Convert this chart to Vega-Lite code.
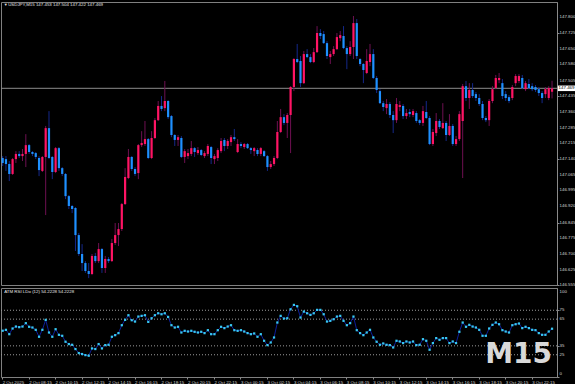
{
"$schema":"https://vega.github.io/schema/vega-lite/v6.json",
"background":"#000000",
"padding":{"left":0,"top":1,"right":0,"bottom":0},
"spacing":3,
"bounds":"flush",
"config":{"view":{"stroke":"#808080","strokeWidth":1},"font":"Liberation Sans","axis":{"labelFont":"Liberation Sans","labelFontSize":4.4,"labelColor":"#d4d4d4","tickColor":"#8a8a8a","domainColor":"#8a8a8a","tickSize":2,"grid":false,"title":null,"labelPadding":1,"labelOverlap":false,"labelSeparation":0,"labelFlush":false,"labelBound":false}},
"datasets":{"bars":[
{"t":"2 Oct 06:15","o":147.145,"h":147.154,"l":147.108,"c":147.122,"r":52.0},
{"t":"2 Oct 06:30","o":147.140,"h":147.154,"l":147.085,"c":147.117,"r":53.0},
{"t":"2 Oct 06:45","o":147.117,"h":147.131,"l":147.038,"c":147.071,"r":48.1},
{"t":"2 Oct 07:00","o":147.071,"h":147.145,"l":147.066,"c":147.140,"r":54.5},
{"t":"2 Oct 07:15","o":147.140,"h":147.177,"l":147.122,"c":147.164,"r":56.7},
{"t":"2 Oct 07:30","o":147.164,"h":147.177,"l":147.145,"c":147.154,"r":56.0},
{"t":"2 Oct 07:45","o":147.154,"h":147.187,"l":147.131,"c":147.164,"r":56.7},
{"t":"2 Oct 08:00","o":147.164,"h":147.256,"l":147.103,"c":147.205,"r":60.5},
{"t":"2 Oct 08:15","o":147.205,"h":147.210,"l":147.164,"c":147.173,"r":56.4},
{"t":"2 Oct 08:30","o":147.173,"h":147.177,"l":147.154,"c":147.164,"r":55.6},
{"t":"2 Oct 08:45","o":147.168,"h":147.173,"l":147.140,"c":147.150,"r":53.0},
{"t":"2 Oct 09:00","o":147.145,"h":147.154,"l":147.061,"c":147.089,"r":45.2},
{"t":"2 Oct 09:15","o":147.085,"h":147.154,"l":147.080,"c":147.150,"r":53.0},
{"t":"2 Oct 09:30","o":147.150,"h":147.294,"l":146.880,"c":147.284,"r":64.2},
{"t":"2 Oct 09:45","o":147.284,"h":147.363,"l":147.140,"c":147.145,"r":50.0},
{"t":"2 Oct 10:00","o":147.150,"h":147.154,"l":147.047,"c":147.080,"r":45.2},
{"t":"2 Oct 10:15","o":147.080,"h":147.196,"l":147.075,"c":147.191,"r":53.7},
{"t":"2 Oct 10:30","o":147.191,"h":147.196,"l":147.085,"c":147.098,"r":47.4},
{"t":"2 Oct 10:45","o":147.098,"h":147.103,"l":147.061,"c":147.071,"r":46.3},
{"t":"2 Oct 11:00","o":147.071,"h":147.075,"l":146.954,"c":146.968,"r":39.6},
{"t":"2 Oct 11:15","o":146.968,"h":146.973,"l":146.908,"c":146.922,"r":37.0},
{"t":"2 Oct 11:30","o":146.922,"h":146.927,"l":146.889,"c":146.908,"r":36.2},
{"t":"2 Oct 11:45","o":146.913,"h":146.917,"l":146.713,"c":146.787,"r":31.4},
{"t":"2 Oct 12:00","o":146.787,"h":146.797,"l":146.690,"c":146.699,"r":26.9},
{"t":"2 Oct 12:15","o":146.699,"h":146.745,"l":146.620,"c":146.657,"r":25.8},
{"t":"2 Oct 12:30","o":146.657,"h":146.666,"l":146.611,"c":146.620,"r":24.6},
{"t":"2 Oct 12:45","o":146.620,"h":146.657,"l":146.587,"c":146.606,"r":23.9},
{"t":"2 Oct 13:00","o":146.606,"h":146.699,"l":146.601,"c":146.690,"r":32.1},
{"t":"2 Oct 13:15","o":146.690,"h":146.704,"l":146.657,"c":146.666,"r":31.4},
{"t":"2 Oct 13:30","o":146.666,"h":146.750,"l":146.657,"c":146.722,"r":37.0},
{"t":"2 Oct 13:45","o":146.722,"h":146.727,"l":146.611,"c":146.634,"r":32.1},
{"t":"2 Oct 14:00","o":146.634,"h":146.690,"l":146.611,"c":146.676,"r":35.8},
{"t":"2 Oct 14:15","o":146.676,"h":146.685,"l":146.657,"c":146.666,"r":36.2},
{"t":"2 Oct 14:30","o":146.666,"h":146.769,"l":146.662,"c":146.750,"r":45.2},
{"t":"2 Oct 14:45","o":146.750,"h":146.843,"l":146.741,"c":146.787,"r":47.0},
{"t":"2 Oct 15:00","o":146.787,"h":146.843,"l":146.736,"c":146.815,"r":49.3},
{"t":"2 Oct 15:15","o":146.815,"h":146.936,"l":146.806,"c":146.931,"r":58.2},
{"t":"2 Oct 15:30","o":146.931,"h":147.098,"l":146.927,"c":147.057,"r":64.2},
{"t":"2 Oct 15:45","o":147.052,"h":147.187,"l":147.047,"c":147.150,"r":69.4},
{"t":"2 Oct 16:00","o":147.150,"h":147.154,"l":147.085,"c":147.094,"r":63.8},
{"t":"2 Oct 16:15","o":147.094,"h":147.103,"l":147.061,"c":147.071,"r":62.3},
{"t":"2 Oct 16:30","o":147.075,"h":147.210,"l":147.047,"c":147.205,"r":67.9},
{"t":"2 Oct 16:45","o":147.205,"h":147.270,"l":147.196,"c":147.215,"r":68.7},
{"t":"2 Oct 17:00","o":147.210,"h":147.317,"l":147.201,"c":147.233,"r":69.4},
{"t":"2 Oct 17:15","o":147.233,"h":147.238,"l":147.140,"c":147.145,"r":61.9},
{"t":"2 Oct 17:30","o":147.145,"h":147.270,"l":147.140,"c":147.238,"r":66.0},
{"t":"2 Oct 17:45","o":147.238,"h":147.331,"l":147.233,"c":147.321,"r":69.4},
{"t":"2 Oct 18:00","o":147.321,"h":147.410,"l":147.317,"c":147.387,"r":71.6},
{"t":"2 Oct 18:15","o":147.387,"h":147.433,"l":147.363,"c":147.373,"r":70.5},
{"t":"2 Oct 18:30","o":147.377,"h":147.503,"l":147.363,"c":147.410,"r":71.6},
{"t":"2 Oct 18:45","o":147.410,"h":147.414,"l":147.326,"c":147.335,"r":67.5},
{"t":"2 Oct 19:00","o":147.340,"h":147.345,"l":147.242,"c":147.252,"r":58.2},
{"t":"2 Oct 19:15","o":147.252,"h":147.256,"l":147.201,"c":147.229,"r":55.6},
{"t":"2 Oct 19:30","o":147.229,"h":147.252,"l":147.201,"c":147.242,"r":56.4},
{"t":"2 Oct 19:45","o":147.238,"h":147.247,"l":147.145,"c":147.150,"r":50.0},
{"t":"2 Oct 20:00","o":147.150,"h":147.187,"l":147.122,"c":147.177,"r":51.9},
{"t":"2 Oct 20:15","o":147.154,"h":147.187,"l":147.140,"c":147.168,"r":51.1},
{"t":"2 Oct 20:30","o":147.164,"h":147.224,"l":147.154,"c":147.191,"r":51.9},
{"t":"2 Oct 20:45","o":147.191,"h":147.196,"l":147.150,"c":147.173,"r":50.8},
{"t":"2 Oct 21:00","o":147.168,"h":147.196,"l":147.159,"c":147.182,"r":50.0},
{"t":"2 Oct 21:15","o":147.182,"h":147.187,"l":147.154,"c":147.159,"r":50.8},
{"t":"2 Oct 21:30","o":147.154,"h":147.177,"l":147.145,"c":147.168,"r":49.3},
{"t":"2 Oct 21:45","o":147.164,"h":147.210,"l":147.154,"c":147.201,"r":52.6},
{"t":"2 Oct 22:00","o":147.196,"h":147.201,"l":147.117,"c":147.145,"r":48.1},
{"t":"2 Oct 22:15","o":147.140,"h":147.164,"l":147.117,"c":147.154,"r":48.1},
{"t":"2 Oct 22:30","o":147.145,"h":147.191,"l":147.131,"c":147.182,"r":52.6},
{"t":"2 Oct 22:45","o":147.177,"h":147.238,"l":147.168,"c":147.224,"r":56.4},
{"t":"2 Oct 23:00","o":147.229,"h":147.238,"l":147.177,"c":147.201,"r":54.9},
{"t":"2 Oct 23:15","o":147.201,"h":147.233,"l":147.187,"c":147.224,"r":56.7},
{"t":"2 Oct 23:30","o":147.219,"h":147.252,"l":147.201,"c":147.242,"r":58.2},
{"t":"2 Oct 23:45","o":147.242,"h":147.280,"l":147.224,"c":147.233,"r":52.6},
{"t":"3 Oct 00:00","o":147.173,"h":147.233,"l":147.168,"c":147.210,"r":51.9},
{"t":"3 Oct 00:15","o":147.210,"h":147.219,"l":147.191,"c":147.201,"r":52.6},
{"t":"3 Oct 00:30","o":147.196,"h":147.215,"l":147.187,"c":147.210,"r":51.1},
{"t":"3 Oct 00:45","o":147.210,"h":147.215,"l":147.187,"c":147.191,"r":49.3},
{"t":"3 Oct 01:00","o":147.191,"h":147.196,"l":147.164,"c":147.182,"r":48.1},
{"t":"3 Oct 01:15","o":147.177,"h":147.196,"l":147.154,"c":147.191,"r":48.9},
{"t":"3 Oct 01:30","o":147.182,"h":147.191,"l":147.154,"c":147.164,"r":45.2},
{"t":"3 Oct 01:45","o":147.164,"h":147.196,"l":147.154,"c":147.191,"r":48.1},
{"t":"3 Oct 02:00","o":147.177,"h":147.182,"l":147.150,"c":147.154,"r":40.7},
{"t":"3 Oct 02:15","o":147.154,"h":147.159,"l":147.085,"c":147.103,"r":35.8},
{"t":"3 Oct 02:30","o":147.103,"h":147.131,"l":147.094,"c":147.117,"r":38.8},
{"t":"3 Oct 02:45","o":147.117,"h":147.154,"l":147.108,"c":147.145,"r":44.4},
{"t":"3 Oct 03:00","o":147.145,"h":147.317,"l":147.140,"c":147.266,"r":61.2},
{"t":"3 Oct 03:15","o":147.266,"h":147.373,"l":147.261,"c":147.335,"r":68.7},
{"t":"3 Oct 03:30","o":147.335,"h":147.349,"l":147.298,"c":147.308,"r":65.7},
{"t":"3 Oct 03:45","o":147.308,"h":147.354,"l":147.238,"c":147.345,"r":66.0},
{"t":"3 Oct 04:00","o":147.345,"h":147.479,"l":147.168,"c":147.475,"r":76.1},
{"t":"3 Oct 04:15","o":147.475,"h":147.609,"l":147.456,"c":147.605,"r":81.0},
{"t":"3 Oct 04:30","o":147.605,"h":147.675,"l":147.586,"c":147.591,"r":79.5},
{"t":"3 Oct 04:45","o":147.596,"h":147.619,"l":147.475,"c":147.493,"r":66.8},
{"t":"3 Oct 05:00","o":147.493,"h":147.642,"l":147.489,"c":147.628,"r":73.5},
{"t":"3 Oct 05:15","o":147.628,"h":147.651,"l":147.609,"c":147.614,"r":71.6},
{"t":"3 Oct 05:30","o":147.614,"h":147.628,"l":147.586,"c":147.591,"r":69.8},
{"t":"3 Oct 05:45","o":147.591,"h":147.656,"l":147.586,"c":147.637,"r":71.6},
{"t":"3 Oct 06:00","o":147.637,"h":147.758,"l":147.633,"c":147.726,"r":75.4},
{"t":"3 Oct 06:15","o":147.726,"h":147.744,"l":147.698,"c":147.712,"r":75.4},
{"t":"3 Oct 06:30","o":147.721,"h":147.735,"l":147.675,"c":147.679,"r":70.5},
{"t":"3 Oct 06:45","o":147.679,"h":147.688,"l":147.605,"c":147.619,"r":62.3},
{"t":"3 Oct 07:00","o":147.614,"h":147.642,"l":147.582,"c":147.628,"r":63.1},
{"t":"3 Oct 07:15","o":147.628,"h":147.665,"l":147.619,"c":147.651,"r":64.9},
{"t":"3 Oct 07:30","o":147.651,"h":147.726,"l":147.647,"c":147.707,"r":67.9},
{"t":"3 Oct 07:45","o":147.702,"h":147.735,"l":147.688,"c":147.716,"r":68.7},
{"t":"3 Oct 08:00","o":147.712,"h":147.758,"l":147.651,"c":147.656,"r":63.1},
{"t":"3 Oct 08:15","o":147.656,"h":147.665,"l":147.558,"c":147.628,"r":58.2},
{"t":"3 Oct 08:30","o":147.628,"h":147.688,"l":147.619,"c":147.661,"r":60.5},
{"t":"3 Oct 08:45","o":147.661,"h":147.805,"l":147.605,"c":147.772,"r":67.9},
{"t":"3 Oct 09:00","o":147.772,"h":147.791,"l":147.605,"c":147.619,"r":52.6},
{"t":"3 Oct 09:15","o":147.605,"h":147.609,"l":147.572,"c":147.582,"r":49.3},
{"t":"3 Oct 09:30","o":147.582,"h":147.586,"l":147.493,"c":147.554,"r":47.0},
{"t":"3 Oct 09:45","o":147.540,"h":147.651,"l":147.535,"c":147.596,"r":50.0},
{"t":"3 Oct 10:00","o":147.591,"h":147.675,"l":147.572,"c":147.628,"r":53.0},
{"t":"3 Oct 10:15","o":147.628,"h":147.651,"l":147.512,"c":147.517,"r":44.4},
{"t":"3 Oct 10:30","o":147.517,"h":147.526,"l":147.447,"c":147.461,"r":39.6},
{"t":"3 Oct 10:45","o":147.456,"h":147.465,"l":147.396,"c":147.400,"r":36.2},
{"t":"3 Oct 11:00","o":147.400,"h":147.410,"l":147.363,"c":147.382,"r":37.7},
{"t":"3 Oct 11:15","o":147.377,"h":147.419,"l":147.349,"c":147.396,"r":36.2},
{"t":"3 Oct 11:30","o":147.396,"h":147.405,"l":147.331,"c":147.345,"r":35.8},
{"t":"3 Oct 11:45","o":147.345,"h":147.363,"l":147.261,"c":147.321,"r":33.2},
{"t":"3 Oct 12:00","o":147.321,"h":147.424,"l":147.308,"c":147.396,"r":40.7},
{"t":"3 Oct 12:15","o":147.382,"h":147.410,"l":147.363,"c":147.391,"r":39.9},
{"t":"3 Oct 12:30","o":147.387,"h":147.396,"l":147.326,"c":147.340,"r":38.1},
{"t":"3 Oct 12:45","o":147.340,"h":147.373,"l":147.326,"c":147.354,"r":39.9},
{"t":"3 Oct 13:00","o":147.359,"h":147.373,"l":147.335,"c":147.349,"r":38.8},
{"t":"3 Oct 13:15","o":147.345,"h":147.373,"l":147.335,"c":147.363,"r":39.9},
{"t":"3 Oct 13:30","o":147.354,"h":147.363,"l":147.308,"c":147.317,"r":35.8},
{"t":"3 Oct 13:45","o":147.321,"h":147.326,"l":147.298,"c":147.308,"r":36.2},
{"t":"3 Oct 14:00","o":147.308,"h":147.387,"l":147.294,"c":147.363,"r":42.5},
{"t":"3 Oct 14:15","o":147.359,"h":147.410,"l":147.326,"c":147.331,"r":40.7},
{"t":"3 Oct 14:30","o":147.331,"h":147.340,"l":147.205,"c":147.210,"r":30.6},
{"t":"3 Oct 14:45","o":147.210,"h":147.280,"l":147.201,"c":147.266,"r":38.1},
{"t":"3 Oct 15:00","o":147.261,"h":147.354,"l":147.247,"c":147.317,"r":43.7},
{"t":"3 Oct 15:15","o":147.317,"h":147.326,"l":147.280,"c":147.289,"r":41.8},
{"t":"3 Oct 15:30","o":147.284,"h":147.400,"l":147.280,"c":147.308,"r":43.7},
{"t":"3 Oct 15:45","o":147.308,"h":147.317,"l":147.224,"c":147.252,"r":43.7},
{"t":"3 Oct 16:00","o":147.252,"h":147.349,"l":147.247,"c":147.294,"r":38.1},
{"t":"3 Oct 16:15","o":147.294,"h":147.303,"l":147.201,"c":147.210,"r":39.9},
{"t":"3 Oct 16:30","o":147.210,"h":147.247,"l":147.201,"c":147.233,"r":38.1},
{"t":"3 Oct 16:45","o":147.233,"h":147.363,"l":147.224,"c":147.349,"r":50.8},
{"t":"3 Oct 17:00","o":147.317,"h":147.489,"l":147.052,"c":147.479,"r":61.2},
{"t":"3 Oct 17:15","o":147.479,"h":147.503,"l":147.410,"c":147.424,"r":56.4},
{"t":"3 Oct 17:30","o":147.424,"h":147.493,"l":147.373,"c":147.461,"r":58.6},
{"t":"3 Oct 17:45","o":147.461,"h":147.493,"l":147.424,"c":147.433,"r":56.7},
{"t":"3 Oct 18:00","o":147.442,"h":147.452,"l":147.410,"c":147.424,"r":55.6},
{"t":"3 Oct 18:15","o":147.424,"h":147.442,"l":147.387,"c":147.396,"r":53.0},
{"t":"3 Oct 18:30","o":147.396,"h":147.410,"l":147.321,"c":147.331,"r":46.3},
{"t":"3 Oct 18:45","o":147.331,"h":147.340,"l":147.312,"c":147.321,"r":46.3},
{"t":"3 Oct 19:00","o":147.321,"h":147.419,"l":147.294,"c":147.410,"r":54.5},
{"t":"3 Oct 19:15","o":147.410,"h":147.479,"l":147.400,"c":147.465,"r":58.6},
{"t":"3 Oct 19:30","o":147.470,"h":147.531,"l":147.465,"c":147.517,"r":61.2},
{"t":"3 Oct 19:45","o":147.507,"h":147.540,"l":147.493,"c":147.517,"r":59.3},
{"t":"3 Oct 20:00","o":147.493,"h":147.512,"l":147.419,"c":147.433,"r":52.6},
{"t":"3 Oct 20:15","o":147.442,"h":147.456,"l":147.410,"c":147.424,"r":51.1},
{"t":"3 Oct 20:30","o":147.428,"h":147.438,"l":147.400,"c":147.410,"r":50.0},
{"t":"3 Oct 20:45","o":147.424,"h":147.484,"l":147.414,"c":147.475,"r":58.2},
{"t":"3 Oct 21:00","o":147.493,"h":147.535,"l":147.479,"c":147.526,"r":59.3},
{"t":"3 Oct 21:15","o":147.503,"h":147.535,"l":147.493,"c":147.526,"r":60.1},
{"t":"3 Oct 21:30","o":147.517,"h":147.531,"l":147.465,"c":147.470,"r":54.9},
{"t":"3 Oct 21:45","o":147.465,"h":147.503,"l":147.456,"c":147.493,"r":56.4},
{"t":"3 Oct 22:00","o":147.489,"h":147.512,"l":147.465,"c":147.470,"r":54.9},
{"t":"3 Oct 22:15","o":147.479,"h":147.493,"l":147.456,"c":147.465,"r":53.0},
{"t":"3 Oct 22:30","o":147.475,"h":147.484,"l":147.452,"c":147.461,"r":52.6},
{"t":"3 Oct 22:45","o":147.465,"h":147.475,"l":147.433,"c":147.447,"r":49.3},
{"t":"3 Oct 23:00","o":147.447,"h":147.456,"l":147.400,"c":147.424,"r":47.4},
{"t":"3 Oct 23:15","o":147.442,"h":147.475,"l":147.424,"c":147.465,"r":47.4},
{"t":"3 Oct 23:30","o":147.424,"h":147.479,"l":147.414,"c":147.470,"r":51.1},
{"t":"3 Oct 23:45","o":147.453,"h":147.504,"l":147.422,"c":147.469,"r":54.2228}
],
"pticks":[{"p":147.8},{"p":147.725},{"p":147.65},{"p":147.58},{"p":147.505},{"p":147.435},{"p":147.36},{"p":147.285},{"p":147.215},{"p":147.14},{"p":147.065},{"p":146.995},{"p":146.92},{"p":146.845},{"p":146.775},{"p":146.7},{"p":146.625},{"p":146.555}],
"rticks":[{"v":100},{"v":75},{"v":65},{"v":35},{"v":25},{"v":0}]
},
"vconcat":[
{
"width":556,"height":283,
"data":{"name":"bars"},
"layer":[
{"mark":{"type":"rule","strokeWidth":1},
 "transform":[{"filter":"datum.t == '3 Oct 23:45'"}],
 "encoding":{"y":{"field":"c","type":"quantitative","scale":{"domain":[146.555,147.870],"nice":false,"zero":false},
   "axis":{"orient":"right","values":[147.8,147.725,147.65,147.58,147.505,147.435,147.36,147.285,147.215,147.14,147.065,146.995,146.92,146.845,146.775,146.7,146.625,146.555],"labels":false}},
   "color":{"value":"#8c8c8c"}}},
{"data":{"name":"pticks"},
 "mark":{"type":"text","align":"left","baseline":"middle","dx":2.5,"fontSize":4.4,"color":"#d4d4d4"},
 "encoding":{"x":{"value":"width"},"y":{"field":"p","type":"quantitative"},"text":{"field":"p","type":"quantitative","format":".3f"}}},
{"mark":{"type":"rule","strokeWidth":1},
 "encoding":{"x":{"field":"t","type":"ordinal","sort":null,"scale":{"type":"band","paddingInner":0,"paddingOuter":0.5,"align":0},"axis":null},
   "y":{"field":"h","type":"quantitative"},"y2":{"field":"l"},
   "color":{"condition":{"test":"datum.c >= datum.o","value":"#6e1052"},"value":"#14288a"}}},
{"mark":{"type":"bar","size":2.2},
 "encoding":{"x":{"field":"t","type":"ordinal","sort":null},
   "y":{"field":"o","type":"quantitative"},"y2":{"field":"c"},
   "color":{"condition":{"test":"datum.c >= datum.o","value":"#ff1464"},"value":"#1e90ff"}}},
{"mark":{"type":"text","align":"left","baseline":"middle","dx":1,"fontSize":4,"color":"#e6e6e6"},
 "transform":[{"filter":"datum.t == '2 Oct 06:15'"}],
 "encoding":{"x":{"field":"t","type":"ordinal","sort":null},"y":{"datum":147.854},"text":{"value":"▼"}}},
{"mark":{"type":"text","align":"left","baseline":"middle","dx":5.5,"fontSize":4.4,"color":"#e6e6e6"},
 "transform":[{"filter":"datum.t == '2 Oct 06:15'"}],
 "encoding":{"x":{"field":"t","type":"ordinal","sort":null},"y":{"datum":147.854},"text":{"value":"USDJPY,M15  147.453 147.504 147.422 147.469"}}},
{"mark":{"type":"point","shape":"M-1,-0.32L1,-0.32L1,0.32L-1,0.32Z","filled":true,"color":"#ffffff","opacity":1,"size":300,"xOffset":14.5},
 "transform":[{"filter":"datum.t == '3 Oct 23:45'"}],
 "encoding":{"x":{"field":"t","type":"ordinal","sort":null},"y":{"field":"c","type":"quantitative"}}},
{"mark":{"type":"text","align":"center","baseline":"middle","dx":14.5,"fontSize":4.4,"color":"#000000"},
 "transform":[{"filter":"datum.t == '3 Oct 23:45'"}],
 "encoding":{"x":{"field":"t","type":"ordinal","sort":null},"y":{"field":"c","type":"quantitative"},"text":{"field":"c","type":"quantitative","format":".3f"}}}
]
},
{
"width":556,"height":89,
"data":{"name":"bars"},
"layer":[
{"data":{"values":[{"lv":75},{"lv":65},{"lv":35},{"lv":25}]},
 "mark":{"type":"rule","strokeWidth":1,"strokeDash":[1,2]},
 "encoding":{"y":{"field":"lv","type":"quantitative","scale":{"domain":[0,100],"nice":false,"zero":false},
   "axis":{"orient":"right","values":[0,25,35,65,75,100],"labels":false}},"color":{"value":"#9a9a9a"}}},
{"data":{"name":"rticks"},
 "transform":[{"filter":"datum.v > 0 && datum.v < 100"}],
 "mark":{"type":"text","align":"left","baseline":"middle","dx":2.5,"fontSize":4.4,"color":"#d4d4d4"},
 "encoding":{"x":{"value":"width"},"y":{"field":"v","type":"quantitative"},"text":{"field":"v","type":"quantitative"}}},
{"data":{"name":"rticks"},
 "transform":[{"filter":"datum.v == 100"}],
 "mark":{"type":"text","align":"left","baseline":"middle","dx":2.5,"dy":3.5,"fontSize":4.4,"color":"#d4d4d4"},
 "encoding":{"x":{"value":"width"},"y":{"field":"v","type":"quantitative"},"text":{"field":"v","type":"quantitative"}}},
{"data":{"name":"rticks"},
 "transform":[{"filter":"datum.v == 0"}],
 "mark":{"type":"text","align":"left","baseline":"middle","dx":2.5,"dy":-3,"fontSize":4.4,"color":"#d4d4d4"},
 "encoding":{"x":{"value":"width"},"y":{"field":"v","type":"quantitative"},"text":{"field":"v","type":"quantitative"}}},
{"mark":{"type":"line","strokeWidth":1,"color":"#0c1e9a"},
 "encoding":{"x":{"field":"t","type":"ordinal","sort":null,"scale":{"type":"band","paddingInner":0,"paddingOuter":0.5,"align":0},
   "axis":{"orient":"bottom","values":["2 Oct 06:15","2 Oct 08:15","2 Oct 10:15","2 Oct 12:15","2 Oct 14:15","2 Oct 16:15","2 Oct 18:15","2 Oct 20:15","2 Oct 22:15","3 Oct 00:15","3 Oct 02:15","3 Oct 04:15","3 Oct 06:15","3 Oct 08:15","3 Oct 10:15","3 Oct 12:15","3 Oct 14:15","3 Oct 16:15","3 Oct 18:15","3 Oct 20:15","3 Oct 22:15"],
     "labelExpr":"datum.value == '2 Oct 06:15' ? '2 Oct 2025' : datum.value","labelAlign":"left","labelAngle":0,"labelBaseline":"top","domain":false,"tickSize":2,"labelOverlap":false,"labelSeparation":0}},
   "y":{"field":"r","type":"quantitative"}}},
{"mark":{"type":"square","size":5,"color":"#38c8f0","opacity":1},
 "encoding":{"x":{"field":"t","type":"ordinal","sort":null},"y":{"field":"r","type":"quantitative"}}},
{"mark":{"type":"text","align":"left","baseline":"middle","dx":1.5,"fontSize":4.4,"color":"#e6e6e6"},
 "transform":[{"filter":"datum.t == '2 Oct 06:15'"}],
 "encoding":{"x":{"field":"t","type":"ordinal","sort":null},"y":{"datum":95.5},"text":{"value":"ATM RSI LDo (12) 54.2228 54.2228"}}},
{"mark":{"type":"text","align":"right","baseline":"alphabetic","font":"DejaVu Sans","fontWeight":"bold","fontSize":28,"color":"#d9d9d9"},
 "transform":[{"filter":"datum.t == '3 Oct 23:45'"}],
 "encoding":{"x":{"field":"t","type":"ordinal","sort":null},"y":{"datum":15.7},"text":{"value":"M15"}}}
]
}
]
}
